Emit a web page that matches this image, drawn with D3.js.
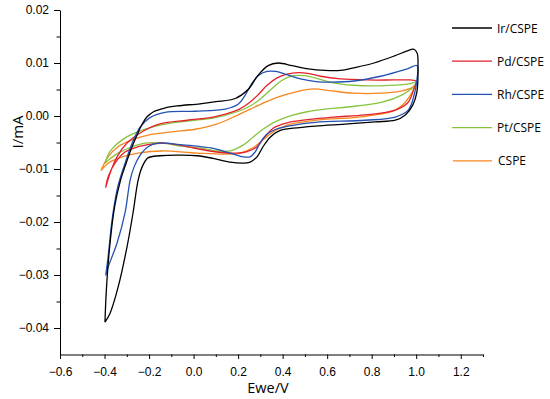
<!DOCTYPE html>
<html>
<head>
<meta charset="utf-8">
<script src="https://cdn.jsdelivr.net/npm/d3@7"></script>
<style>
  body { margin: 0; background: #fff; }
  svg { display: block; }
  .tick text { font-family: "Liberation Sans", Arial, sans-serif; font-size: 12px; fill: #000; }
  .axis path, .axis line { stroke: #000; }
</style>
</head>
<body>
<svg id="chart" width="550" height="399"></svg>
<script>
// CV loops, [E (V), I (mA)] : forward scan then reverse scan
const irCSPE = [
  [-0.398,-0.0389],[-0.392,-0.0330],[-0.377,-0.0247],[-0.355,-0.0172],[-0.328,-0.0121],[-0.303,-0.0089],
  [-0.278,-0.0060],[-0.254,-0.0036],[-0.232,-0.0016],[-0.210,-0.0002],[-0.180,0.0008],[-0.130,0.0015],
  [-0.074,0.0019],[0.029,0.0023],[0.10,0.0027],[0.187,0.0033],[0.245,0.0050],[0.29,0.0077],[0.335,0.0095],
  [0.38,0.0100],[0.443,0.0095],[0.515,0.0089],[0.59,0.0086],[0.66,0.0086],[0.72,0.0091],[0.81,0.0100],
  [0.9,0.0113],[0.96,0.0123],[0.988,0.0126],[1.004,0.0119],[1.008,0.0092],
  [1.003,0.0045],[0.985,0.0021],[0.951,0.0002],[0.906,-0.0008],[0.816,-0.0011],[0.694,-0.0015],
  [0.546,-0.0019],[0.447,-0.0023],[0.389,-0.0027],[0.344,-0.0040],[0.312,-0.0058],[0.285,-0.0077],
  [0.254,-0.0087],[0.222,-0.0089],[0.164,-0.0087],[0.088,-0.0080],[0.016,-0.0075],[-0.061,-0.0074],
  [-0.151,-0.0075],[-0.205,-0.0079],[-0.231,-0.0096],[-0.249,-0.0121],[-0.272,-0.0183],[-0.299,-0.0247],
  [-0.339,-0.0323],[-0.375,-0.0372],[-0.398,-0.0389]
];
const pdCSPE = [
  [-0.395,-0.0135],[-0.375,-0.0108],[-0.344,-0.0077],[-0.299,-0.0051],[-0.240,-0.0032],[-0.151,-0.0015],
  [-0.029,-0.0008],[0.088,-0.0002],[0.196,0.0011],[0.25,0.0025],[0.29,0.0040],[0.33,0.0058],[0.375,0.0072],
  [0.42,0.0079],[0.47,0.0082],[0.52,0.0080],[0.57,0.0075],[0.66,0.0070],[0.78,0.0068],[0.9,0.0068],
  [0.975,0.0068],[1.0,0.0066],
  [1.0,0.0062],[0.991,0.0053],[0.964,0.0026],[0.906,0.0011],[0.771,0.0002],[0.627,-0.0002],[0.51,-0.0007],
  [0.42,-0.0013],[0.357,-0.0023],[0.321,-0.0039],[0.285,-0.0058],[0.240,-0.0067],[0.178,-0.0070],
  [0.088,-0.0067],[-0.052,-0.0056],[-0.128,-0.0051],[-0.187,-0.0053],[-0.249,-0.0058],[-0.308,-0.0068],
  [-0.353,-0.0089],[-0.384,-0.0115],[-0.395,-0.0135]
];
const rhCSPE = [
  [-0.395,-0.0301],[-0.384,-0.0266],[-0.366,-0.0196],[-0.344,-0.0140],[-0.328,-0.0115],[-0.306,-0.0087],
  [-0.276,-0.0051],[-0.240,-0.0021],[-0.196,-0.0003],[-0.128,0.0007],[0.007,0.0009],[0.142,0.0013],
  [0.2,0.0022],[0.23,0.0038],[0.26,0.0060],[0.29,0.0076],[0.33,0.0084],[0.37,0.0084],[0.42,0.0078],
  [0.48,0.0070],[0.55,0.0065],[0.62,0.0064],[0.72,0.0066],[0.84,0.0075],[0.96,0.0089],[1.004,0.0095],
  [1.003,0.0068],[0.991,0.0040],[0.964,0.0011],[0.906,-0.0002],[0.771,-0.0008],[0.546,-0.0012],
  [0.44,-0.0018],[0.37,-0.0025],[0.33,-0.0034],[0.30,-0.0050],[0.276,-0.0068],[0.254,-0.0077],
  [0.222,-0.0077],[0.164,-0.0070],[0.088,-0.0061],[0.016,-0.0057],[-0.061,-0.0054],[-0.160,-0.0051],
  [-0.205,-0.0058],[-0.240,-0.0074],[-0.267,-0.0096],[-0.285,-0.0121],[-0.308,-0.0183],[-0.344,-0.0240],
  [-0.384,-0.0285],[-0.395,-0.0301]
];
const ptCSPE = [
  [-0.398,-0.0089],[-0.385,-0.0074],[-0.366,-0.0062],[-0.321,-0.0045],[-0.263,-0.0032],[-0.187,-0.0021],
  [-0.097,-0.0013],[0.007,-0.0008],[0.088,-0.0004],[0.196,0.0008],[0.25,0.0018],[0.30,0.0032],[0.35,0.0051],
  [0.40,0.0068],[0.45,0.0076],[0.50,0.0076],[0.56,0.0070],[0.62,0.0063],[0.717,0.0058],[0.838,0.0057],
  [0.96,0.0060],[1.0,0.0064],
  [0.996,0.0060],[0.982,0.0053],[0.937,0.0040],[0.847,0.0026],[0.694,0.0017],[0.59,0.0013],[0.51,0.0008],
  [0.45,0.0002],[0.40,-0.0005],[0.357,-0.0013],[0.312,-0.0025],[0.267,-0.0040],[0.222,-0.0055],
  [0.164,-0.0066],[0.10,-0.0066],[0.052,-0.0062],[-0.052,-0.0057],[-0.142,-0.0051],[-0.218,-0.0051],
  [-0.276,-0.0058],[-0.339,-0.0070],[-0.385,-0.0084],[-0.398,-0.0089]
];
const cSPE = [
  [-0.416,-0.0103],[-0.384,-0.0077],[-0.339,-0.0058],[-0.276,-0.0045],[-0.204,-0.0036],[-0.097,-0.0030],
  [0.007,-0.0025],[0.1,-0.0016],[0.2,0.0002],[0.285,0.0019],[0.375,0.0035],[0.465,0.0046],[0.54,0.0051],
  [0.61,0.0048],[0.72,0.0043],[0.84,0.0043],[0.93,0.0047],[0.98,0.0053],[0.993,0.0057],
  [0.982,0.0045],[0.951,0.0026],[0.906,0.0011],[0.816,0.0002],[0.694,-0.0004],[0.6,-0.0006],[0.51,-0.0010],
  [0.42,-0.0017],[0.357,-0.0030],[0.312,-0.0045],[0.267,-0.0060],[0.209,-0.0070],[0.151,-0.0072],
  [0.016,-0.0070],[-0.142,-0.0066],[-0.249,-0.0070],[-0.321,-0.0077],[-0.384,-0.0089],[-0.416,-0.0103]
];

const seriesNames = ["Ir/CSPE", "Pd/CSPE", "Rh/CSPE", "Pt/CSPE", "CSPE"];
const seriesData = [irCSPE, pdCSPE, rhCSPE, ptCSPE, cSPE];
const seriesColors = ["#000000", "#e3222b", "#2352b3", "#86c440", "#f7861e"];

const xMajor = [-0.6, -0.4, -0.2, 0.0, 0.2, 0.4, 0.6, 0.8, 1.0, 1.2];
const xMinor = [-0.5, -0.3, -0.1, 0.1, 0.3, 0.5, 0.7, 0.9, 1.1, 1.3];
const yMajor = [-0.04, -0.03, -0.02, -0.01, 0.0, 0.01, 0.02];
const yMinor = [-0.035, -0.025, -0.015, -0.005, 0.005, 0.015];

const svg = d3.select("#chart");

const x = d3.scaleLinear().domain([-0.6, 1.3]).range([60, 483]);
const y = d3.scaleLinear().domain([-0.045, 0.02]).range([354.5, 10]);

// minor ticks first, then major axis on top
svg.append("g").attr("class", "axis")
  .attr("transform", "translate(0,354.5)")
  .call(d3.axisBottom(x).tickValues(xMinor).tickSize(2.5).tickFormat(""))
  .select(".domain").remove();
svg.append("g").attr("class", "axis")
  .attr("transform", "translate(0,354.5)")
  .call(d3.axisBottom(x).tickValues(xMajor).tickSize(4.5).tickSizeOuter(0).tickPadding(8)
    .tickFormat(d3.format(".1f")));

svg.append("g").attr("class", "axis")
  .attr("transform", "translate(60,0)")
  .call(d3.axisLeft(y).tickValues(yMinor).tickSize(3.5).tickFormat(""))
  .select(".domain").remove();
svg.append("g").attr("class", "axis")
  .attr("transform", "translate(60,0)")
  .call(d3.axisLeft(y).tickValues(yMajor).tickSize(6).tickSizeOuter(0).tickPadding(5)
    .tickFormat(d3.format(".2f")));

// axis titles
svg.append("text")
  .attr("x", 268).attr("y", 393)
  .attr("text-anchor", "middle")
  .style("font-family", "'Open Sans', sans-serif")
  .style("font-size", "14.5px")
  .text("Ewe/V");

svg.append("text")
  .attr("transform", "translate(23,132) rotate(-90)")
  .attr("text-anchor", "middle")
  .style("font-family", "'Open Sans', sans-serif")
  .style("font-size", "15px")
  .text("I/mA");

const line = d3.line()
  .x(d => x(d[0]))
  .y(d => y(d[1]))
  .curve(d3.curveCatmullRom.alpha(0.5));

const order = [4, 3, 1, 2, 0];
svg.append("g").selectAll("path")
  .data(order)
  .join("path")
  .attr("d", i => line(seriesData[i]))
  .attr("fill", "none")
  .attr("stroke", i => seriesColors[i])
  .attr("stroke-width", 1.3)
  .attr("stroke-linejoin", "round");

// legend
const legend = svg.append("g")
  .selectAll("g")
  .data(seriesNames)
  .join("g")
  .attr("transform", (d, i) => `translate(452,${28 + i * 33.2})`);

legend.append("line")
  .attr("x1", (d, i) => i === 4 ? 1 : 0)
  .attr("x2", 40)
  .attr("stroke", (d, i) => seriesColors[i])
  .attr("stroke-width", 1.3);

legend.append("text")
  .attr("x", (d, i) => i === 4 ? 46 : 45)
  .attr("y", 4.5)
  .style("font-family", "'Open Sans', sans-serif")
  .style("font-size", "12px")
  .text(d => d);
</script>
</body>
</html>
